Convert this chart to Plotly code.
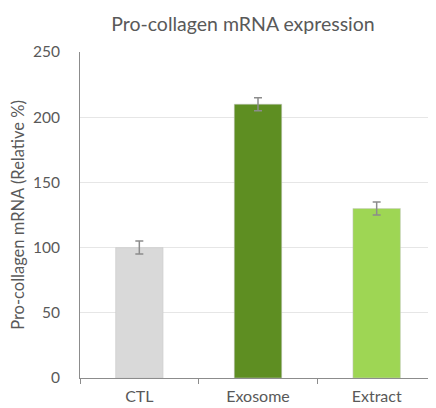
import plotly.graph_objects as go

categories = ["CTL", "Exosome", "Extract"]
values = [100, 210, 130]
errors = [5, 5, 5]
colors = ["#d9d9d9", "#5e8e22", "#9ed654"]
y_ticks = [0, 50, 100, 150, 200, 250]

fig = go.Figure()
fig.add_trace(go.Bar(
    x=categories, y=values,
    marker=dict(color=colors, line=dict(color="#c8c8c8", width=0.5)),
    width=0.4,
    error_y=dict(type="data", array=errors, visible=True, color="#8c8c8c", thickness=1.5, width=4),
))

font_family = "Lato, Open Sans, sans-serif"
fig.update_layout(
    width=428, height=400,
    margin=dict(l=72, r=0, t=44, b=30),
    paper_bgcolor="white", plot_bgcolor="white",
    showlegend=False,
    title=dict(text="Pro-collagen mRNA expression", x=0.549, xanchor="center", y=0.96, yanchor="middle",
               font=dict(family=font_family, size=19.5, color="#595959")),
    font=dict(family=font_family, color="#595959"),
    xaxis=dict(showline=True, linecolor="#8c8c8c", linewidth=1, ticks="outside", tickson="boundaries",
               ticklen=5, tickcolor="#8c8c8c", tickfont=dict(size=16, color="#595959"), showgrid=False,
               ticklabelstandoff=4, automargin=False),
    yaxis=dict(range=[0, 250], tickvals=y_ticks, showline=True, linecolor="#8c8c8c", linewidth=1,
               showgrid=True, gridcolor="#e6e6e6", gridwidth=1, zeroline=False,
               ticks="", tickfont=dict(size=15.5, color="#595959"), ticklabelstandoff=16,
               title=dict(text="Pro-collagen mRNA (Relative %)", font=dict(size=16.5, color="#595959"), standoff=10)),
)
fig.write_html("out.html")
